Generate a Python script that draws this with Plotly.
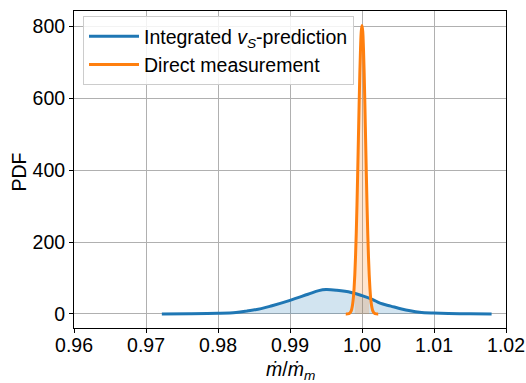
import plotly.graph_objects as go

# Integrated v_S-prediction (blue)
blue_x = [0.9722, 0.976, 0.980, 0.9825, 0.984, 0.986, 0.9875, 0.990, 0.9925, 0.994, 0.995,
          0.9965, 0.9985, 1.000, 1.0015, 1.0025, 1.004, 1.0055, 1.0067, 1.008, 1.0099, 1.012,
          1.015, 1.018]
blue_y = [0.3, 0.6, 1.8, 4, 8, 15, 23, 38, 55, 65, 68,
          66, 60, 51, 40, 30, 22, 14, 9, 5, 2.5, 1.0,
          0.5, 0.3]

# Direct measurement (orange)
orange_x = [0.99775, 0.9980, 0.9983, 0.9985, 0.9986, 0.9987, 0.9988, 0.9989, 0.9990, 0.9991,
            0.9992, 0.9993, 0.9994, 0.9995, 0.9996, 0.9997, 0.9998, 0.9999, 1.0000, 1.0001,
            1.0002, 1.0003, 1.0004, 1.0005, 1.0006, 1.0007, 1.0008, 1.0009, 1.0010, 1.0011,
            1.0012, 1.0013, 1.0014, 1.0015, 1.0017, 1.0020, 1.00225]
orange_y = [0.03, 0.27, 2.5, 8.9, 15.9, 27.4, 45, 71.5, 109, 159,
            223, 301, 391, 487, 583, 671, 741, 787, 803, 787,
            741, 671, 583, 487, 391, 301, 223, 159, 109, 71.5,
            45, 27.4, 15.9, 8.9, 2.5, 0.27, 0.03]
orange_fill_lo, orange_fill_hi = 0.999, 1.001

x_ticks = [0.96, 0.97, 0.98, 0.99, 1.00, 1.01, 1.02]
y_ticks = [0, 200, 400, 600, 800]

BLUE = "#1f77b4"
ORANGE = "#ff7f0e"
FONT = "Liberation Sans, Arial, sans-serif"
FS = 19.5

W, H = 526, 383
ML, MR, MT, MB = 74, 20, 11, 55
PW, PH = W - ML - MR, H - MT - MB

fig = go.Figure()

fig.add_trace(go.Scatter(x=blue_x, y=blue_y, mode="lines", fill="tozeroy",
                         fillcolor="rgba(31,119,180,0.2)", line=dict(width=0, shape="spline"),
                         showlegend=False, hoverinfo="skip"))
ox_f = [x for x in orange_x if orange_fill_lo - 1e-9 <= x <= orange_fill_hi + 1e-9]
oy_f = [y for x, y in zip(orange_x, orange_y) if orange_fill_lo - 1e-9 <= x <= orange_fill_hi + 1e-9]
fig.add_trace(go.Scatter(x=ox_f, y=oy_f, mode="lines", fill="tozeroy",
                         fillcolor="rgba(255,127,14,0.2)", line=dict(width=0, shape="spline"),
                         showlegend=False, hoverinfo="skip"))

fig.add_trace(go.Scatter(x=blue_x, y=blue_y, mode="lines",
                         name="Integrated <i>v<sub>S</sub></i>-prediction",
                         line=dict(color=BLUE, width=3, shape="spline")))
fig.add_trace(go.Scatter(x=orange_x, y=orange_y, mode="lines",
                         name="Direct measurement",
                         line=dict(color=ORANGE, width=3, shape="spline")))

axis_common = dict(showline=True, linecolor="black", linewidth=1, mirror=True,
                   ticks="outside", ticklen=4, tickcolor="black",
                   showgrid=True, gridcolor="#b0b0b0", gridwidth=1, zeroline=False,
                   automargin=False,
                   tickfont=dict(size=FS, color="black", family=FONT))

fig.update_xaxes(range=[0.96, 1.02], tickvals=x_ticks, ticktext=[f"{v:.2f}" for v in x_ticks],
                 ticklabelstandoff=-4, **axis_common)
fig.update_yaxes(range=[-39, 843], tickvals=y_ticks, **axis_common)

fig.add_annotation(text="<i>ṁ</i>/<i>ṁ</i><sub><i>m</i></sub>", xref="paper", yref="paper",
                   x=0.5, y=-42 / PH, xanchor="center", yanchor="middle", showarrow=False,
                   font=dict(size=FS, color="black", family=FONT))
fig.add_annotation(text="PDF", xref="paper", yref="paper",
                   x=-55.5 / PW, y=(H - MB - 172) / PH, xanchor="center", yanchor="middle",
                   textangle=-90, showarrow=False,
                   font=dict(size=FS, color="black", family=FONT))

fig.update_layout(
    width=W, height=H,
    margin=dict(l=ML, r=MR, t=MT, b=MB),
    paper_bgcolor="white", plot_bgcolor="white",
    font=dict(family=FONT, color="black"),
    legend=dict(x=(83 - ML) / PW, y=(H - MB - 16) / PH, xanchor="left", yanchor="top",
                bgcolor="rgba(255,255,255,0.85)", bordercolor="#cccccc", borderwidth=1,
                font=dict(size=FS, family=FONT, color="black"), tracegroupgap=0,
                itemwidth=50),
    showlegend=True,
)

fig.write_html("out.html", config={"displayModeBar": False},
               post_script="document.body.style.margin='0';document.body.style.overflow='hidden';")
